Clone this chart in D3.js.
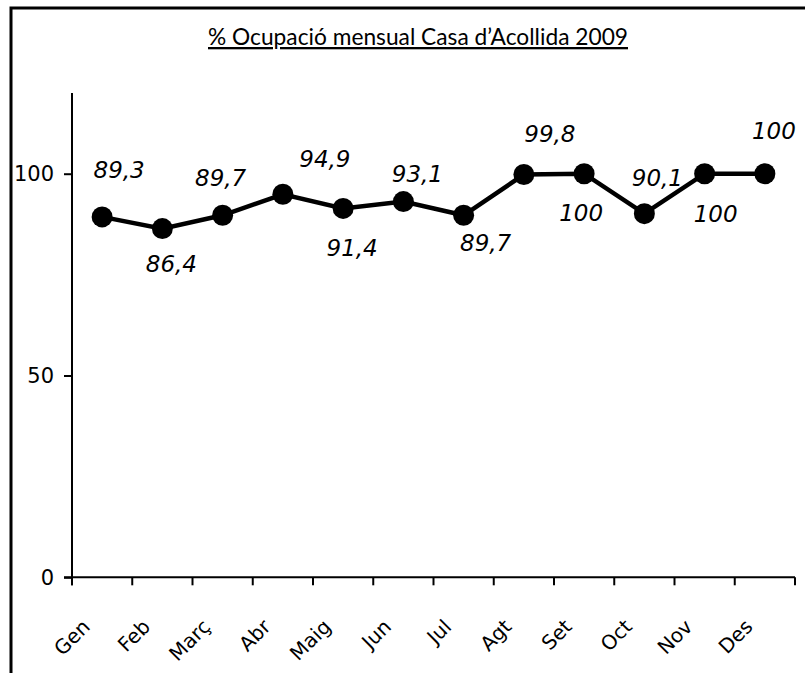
<!DOCTYPE html>
<html><head><meta charset="utf-8">
<script src="https://cdn.jsdelivr.net/npm/d3@7"></script>
<style>body{margin:0;background:#fff}svg{display:block}</style>
</head><body>
<svg id="c" width="805" height="673"></svg>
<script>
const months = ["Gen","Feb","Març","Abr","Maig","Jun","Jul","Agt","Set","Oct","Nov","Des"];
const values = [89.3,86.4,89.7,94.9,91.4,93.1,89.7,99.8,100,90.1,100,100];
const valueLabels = ["89,3","86,4","89,7","94,9","91,4","93,1","89,7","99,8","100","90,1","100","100"];
const yTicks = [0,50,100];
const title = "% Ocupació mensual Casa d’Acollida 2009";
// manual label placement (offset of label centre/baseline from point)
const labelOffsets = [[17,-39],[9,43],[-2,-29],[42,-27],[9,48],[14,-20],[22,36],[26,-33],[-3,47],[13,-28],[11,48],[9,-35]];

const svg = d3.select("#c");
svg.append("rect").attr("x",11).attr("y",8).attr("width",1000).attr("height",1000)
  .attr("fill","none").attr("stroke","#000").attr("stroke-width",3);

const x = d3.scaleBand().domain(months).range([72,795]);
const y = d3.scaleLinear().domain([0,120]).range([577.3,93]);

svg.append("text").attr("x",418).attr("y",45).attr("text-anchor","middle")
  .attr("font-family","Lato").attr("font-size",23).attr("text-decoration","underline")
  .attr("textLength",420).attr("lengthAdjust","spacingAndGlyphs")
  .text(title);

const ya = svg.append("g").attr("transform","translate(72,0)")
  .call(d3.axisLeft(y).tickValues(yTicks).tickSize(8).tickSizeOuter(0).tickPadding(10));
ya.attr("font-size",null).attr("font-family",null);
ya.select(".domain").attr("stroke-width",2).attr("d","M0,"+y(120)+"V"+(y(0)+8));
ya.selectAll(".tick line").attr("stroke-width",2);
ya.selectAll(".tick text").style("font-family","'DejaVu Sans'").style("font-size","21px").attr("fill","#000");

const xa = svg.append("g").attr("transform","translate(0,"+y(0)+")")
  .call(d3.axisBottom(x).tickSize(0).tickFormat(""));
xa.select(".domain").attr("stroke-width",2).attr("d","M64,0H795");
const edges = months.map(m=>x(m)).concat([x.range()[1]]);
xa.selectAll(".edge").data(edges).enter().append("line").attr("class","edge")
  .attr("x1",d=>d).attr("x2",d=>d).attr("y1",0).attr("y2",8).attr("stroke","#000").attr("stroke-width",2);

svg.append("g").selectAll("text").data(months).enter().append("text")
  .attr("transform",d=>"translate("+(x(d)+x.bandwidth()/2-11)+",628) rotate(-45)")
  .attr("text-anchor","end").attr("font-family","DejaVu Sans").attr("font-size",20)
  .text(d=>d);

const cx = (d,i)=>x(months[i])+x.bandwidth()/2;
svg.append("path").datum(values)
  .attr("d",d3.line().x((d,i)=>cx(d,i)).y(d=>y(d)))
  .attr("fill","none").attr("stroke","#000").attr("stroke-width",4.5);
svg.append("g").selectAll("circle").data(values).enter().append("circle")
  .attr("cx",cx).attr("cy",d=>y(d)).attr("r",10.5).attr("fill","#000");

svg.append("g").selectAll("text").data(values).enter().append("text")
  .attr("x",(d,i)=>cx(d,i)+labelOffsets[i][0]).attr("y",(d,i)=>y(d)+labelOffsets[i][1])
  .attr("text-anchor","middle").attr("font-family","DejaVu Sans").attr("font-style","italic")
  .attr("font-size",23).text((d,i)=>valueLabels[i]);
</script>
</body></html>
